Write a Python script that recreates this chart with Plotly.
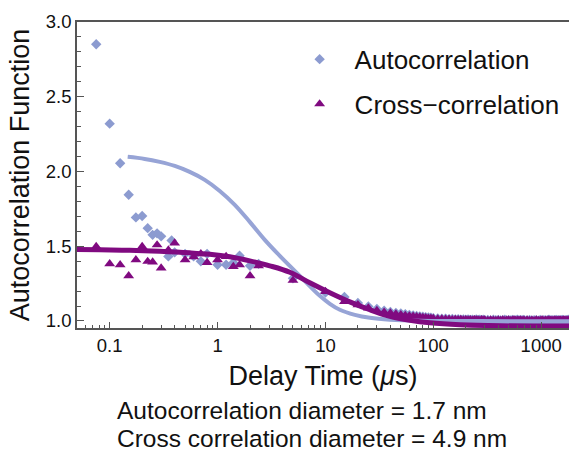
import plotly.graph_objects as go

# ---- measured correlation data (delay time in microseconds) ----
auto_t = [0.075, 0.1, 0.125, 0.15, 0.175, 0.2, 0.225, 0.25, 0.275, 0.3,
          0.35, 0.375, 0.4, 0.5, 0.6, 0.7, 0.8, 1.0, 1.2, 1.4, 1.6, 2.0, 2.4,
          5, 10, 15, 20, 25, 30, 35, 40, 45, 50]
auto_g = [2.851, 2.320, 2.055, 1.844, 1.693, 1.702, 1.621, 1.576, 1.586, 1.566,
          1.432, 1.539, 1.459, 1.449, 1.432, 1.399, 1.449, 1.376, 1.376, 1.390,
          1.436, 1.369, 1.382, 1.285, 1.190, 1.160, 1.120, 1.097, 1.080, 1.068,
          1.060, 1.053, 1.050]

cross_t = [0.075, 0.1, 0.125, 0.15, 0.175, 0.2, 0.225, 0.25, 0.275, 0.3,
           0.35, 0.4, 0.5, 0.6, 0.7, 0.8, 1.0, 1.2, 1.4, 1.6, 2.0, 2.4,
           5, 10, 15, 20, 25, 30, 35, 40, 45, 50]
cross_g = [1.498, 1.382, 1.376, 1.302, 1.409, 1.498, 1.398, 1.394, 1.509, 1.354,
           1.474, 1.521, 1.409, 1.428, 1.449, 1.391, 1.409, 1.431, 1.364, 1.376,
           1.302, 1.369, 1.271, 1.197, 1.130, 1.108, 1.086, 1.070, 1.059, 1.053,
           1.046, 1.041]

# long-delay tail, common time bins for both channels
tail_t = [55, 60, 65, 70, 75, 80, 85, 90, 95, 100,
          110, 120, 130, 140, 150, 160, 170, 180, 190, 200,
          210, 220, 230, 240, 250, 260, 270, 280, 290, 300,
          320, 340, 360, 380, 400, 420, 440, 460, 480, 500,
          520, 540, 560, 580, 600, 620, 640, 660, 680, 700,
          740, 780, 820, 860, 900, 940, 980, 1020, 1060, 1100,
          1140, 1180, 1220, 1260, 1300, 1340, 1380, 1420, 1460, 1500,
          1540, 1580, 1620, 1660, 1700, 1740, 1780, 1820, 1860, 1900]
auto_tail_g = [1.046, 1.041, 1.037, 1.034, 1.030, 1.028, 1.026, 1.023, 1.022, 1.019,
               1.017, 1.015, 1.016, 1.012, 1.013, 1.010, 1.012, 1.009, 1.011, 1.008,
               1.010, 1.007, 1.009, 1.006, 1.010, 1.007, 1.008, 1.005, 1.009, 1.006,
               1.007, 1.004, 1.008, 1.005, 1.007, 1.003, 1.006, 1.008, 1.004, 1.006,
               1.003, 1.007, 1.005, 1.004, 1.008, 1.003, 1.006, 1.004, 1.007, 1.005,
               1.004, 1.007, 1.003, 1.006, 1.005, 1.002, 1.007, 1.004, 1.006, 1.003,
               1.005, 1.008, 1.004, 1.006, 1.003, 1.005, 1.007, 1.004, 1.006, 1.002,
               1.005, 1.007, 1.004, 1.003, 1.006, 1.005, 1.008, 1.004, 1.006, 1.004]
cross_tail_g = [1.037, 1.034, 1.031, 1.028, 1.026, 1.023, 1.021, 1.019, 1.018, 1.016,
                1.014, 1.013, 1.011, 1.012, 1.009, 1.010, 1.008, 1.010, 1.007, 1.009,
                1.006, 1.008, 1.005, 1.009, 1.006, 1.007, 1.004, 1.008, 1.005, 1.007,
                1.004, 1.007, 1.005, 1.003, 1.006, 1.004, 1.007, 1.003, 1.005, 1.006,
                1.002, 1.005, 1.007, 1.003, 1.005, 1.004, 1.006, 1.002, 1.005, 1.004,
                1.006, 1.003, 1.005, 1.002, 1.006, 1.004, 1.003, 1.006, 1.002, 1.005,
                1.004, 1.007, 1.003, 1.005, 1.002, 1.006, 1.004, 1.003, 1.005, 1.006,
                1.002, 1.004, 1.006, 1.003, 1.005, 1.002, 1.006, 1.004, 1.003, 1.005]

# ---- fitted diffusion curves ----
auto_fit_t = [0.1469, 0.2112, 0.2910, 0.4009, 0.5522, 0.7607, 1.048, 1.444, 1.989,
              2.740, 3.776, 5.787, 8.872, 10.99, 13.60, 18.74, 25.82, 39.58, 75.10,
              270.6, 1811]
auto_fit_g = [2.098, 2.084, 2.064, 2.037, 1.997, 1.944, 1.870, 1.777, 1.663,
              1.543, 1.436, 1.302, 1.168, 1.115, 1.075, 1.041, 1.021, 1.008, 1.001,
              0.999, 0.998]

cross_fit_t = [0.0494, 0.0807, 0.1533, 0.2910, 0.5522, 0.8464, 1.298, 1.989, 3.050,
               4.675, 7.166, 10.99, 16.84, 25.82, 39.58, 60.67, 93.0, 176.5, 414.8,
               1811]
cross_fit_g = [1.479, 1.476, 1.473, 1.466, 1.456, 1.446, 1.429, 1.402, 1.369,
               1.326, 1.255, 1.189, 1.128, 1.075, 1.031, 1.005, 0.988, 0.975, 0.968,
               0.966]

AUTO_COLOR = "#8c9bd0"
AUTO_LINE = "#97a4d6"
CROSS_COLOR = "#800a80"
AXIS_COLOR = "#555555"
FONT = "Liberation Sans, Arial, Helvetica, sans-serif"

fig = go.Figure()
fig.add_trace(go.Scatter(
    x=auto_t + tail_t, y=auto_g + auto_tail_g, mode="markers",
    name="Autocorrelation", legendgroup="a",
    marker=dict(symbol="diamond", size=8, color=AUTO_COLOR),
))
fig.add_trace(go.Scatter(
    x=cross_t + tail_t, y=cross_g + cross_tail_g, mode="markers",
    name="Cross\u2212correlation", legendgroup="c",
    marker=dict(symbol="triangle-up", size=9.5, color=CROSS_COLOR),
))
fig.add_trace(go.Scatter(
    x=auto_fit_t, y=auto_fit_g, mode="lines", showlegend=False,
    line=dict(color=AUTO_LINE, width=4, shape="spline"),
))
fig.add_trace(go.Scatter(
    x=cross_fit_t, y=cross_fit_g, mode="lines", showlegend=False,
    line=dict(color=CROSS_COLOR, width=5, shape="spline"),
))

fig.update_layout(
    width=569, height=451,
    margin=dict(l=77, r=0, t=22, b=123),
    paper_bgcolor="white", plot_bgcolor="white",
    font=dict(family=FONT, color="#111111"),
    showlegend=True,
    legend=dict(
        x=0.422, y=0.955, xanchor="left", yanchor="top",
        bgcolor="rgba(0,0,0,0)", font=dict(size=26, family=FONT, color="#111111"),
        itemwidth=60, tracegroupgap=8,
    ),
    annotations=[
        dict(text="Autocorrelation diameter = 1.7 nm", xref="paper", yref="paper",
             x=0.0772, y=-0.268, xanchor="left", yanchor="middle", showarrow=False,
             font=dict(size=24.5, family=FONT, color="#111111")),
        dict(text="Cross correlation diameter = 4.9 nm", xref="paper", yref="paper",
             x=0.0772, y=-0.361, xanchor="left", yanchor="middle", showarrow=False,
             font=dict(size=24.5, family=FONT, color="#111111")),
    ],
)

fig.update_xaxes(
    type="log", range=[-1.303, 3.258],
    tickmode="linear", tick0=0, dtick=1,
    showgrid=False, zeroline=False,
    showline=True, linecolor=AXIS_COLOR, linewidth=1.5, mirror=True,
    ticks="inside", ticklen=6, tickwidth=1, tickcolor=AXIS_COLOR,
    minor=dict(ticks="inside", ticklen=3, dtick="D1", tickcolor=AXIS_COLOR, showgrid=False),
    tickfont=dict(size=18.5, family=FONT, color="#111111"),
    title=dict(text="Delay Time (<i>\u03bc</i>s)", font=dict(size=27, family=FONT, color="#111111"),
               standoff=11),
)
fig.update_yaxes(
    range=[0.953, 3.0],
    tickmode="linear", tick0=1.0, dtick=0.5, tickformat=".1f",
    showgrid=False, zeroline=False,
    showline=True, linecolor=AXIS_COLOR, linewidth=1.5, mirror=False,
    ticks="inside", ticklen=7, tickwidth=1, tickcolor=AXIS_COLOR,
    minor=dict(ticks="inside", ticklen=4, dtick=0.1, tickcolor=AXIS_COLOR, showgrid=False),
    tickfont=dict(size=18.5, family=FONT, color="#111111"),
    title=dict(text="Autocorrelation Function", font=dict(size=27, family=FONT, color="#111111"),
               standoff=8),
)

fig.write_html("out.html")
